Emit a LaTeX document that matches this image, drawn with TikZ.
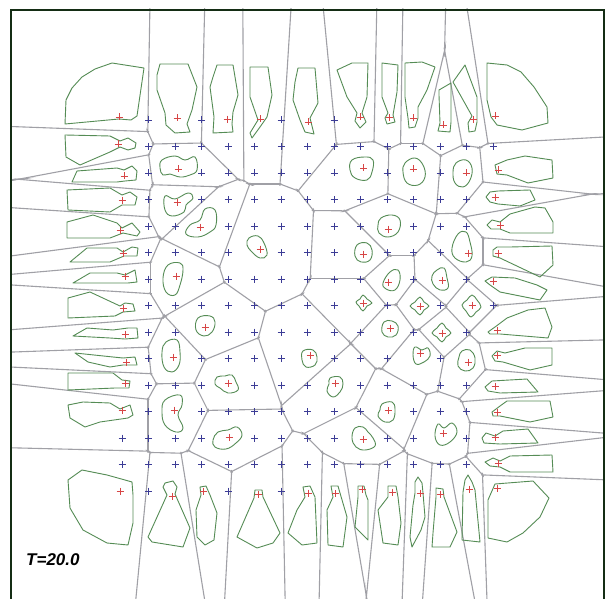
\documentclass[tikz,border=0pt]{standalone}
\usepackage{fontspec}
\newfontfamily\lblfont{Liberation Sans}
\definecolor{vorgray}{RGB}{160,160,166}
\definecolor{blobgreen}{RGB}{85,140,85}
\definecolor{pblue}{RGB}{60,60,150}
\definecolor{pred}{RGB}{215,70,70}
\definecolor{framec}{RGB}{20,45,20}
\tikzset{
  vorline/.style={draw=vorgray,line width=1.1pt},
  blobline/.style={draw=blobgreen,line width=0.9pt,line join=round},
  bcross/.style={draw=pblue,line width=0.9pt},
  rcross/.style={draw=pred,line width=0.9pt},
}
\def\sitelist{119/117,177/118,227/119.2,260/119,308/122,360/117,389/117.6,413/118,443/125,473/119.4,495/116,
118/144,124/176,122/200,120/230,123/253,125/276,123/308,125/334,126/362,125/383,122/410,
120/491,172/496,203/491,258/494,308/493,335/493.6,362/489,392/492,420/493,440/494.4,469/489,497/488,
498/170,495/197,500/225,498/253,493/281,497/330,497.6/355,495/386,497/412,495/437,498/463,
178/169,177/202,200/227,176/276,205/327,173/357,174/410,228/383,229/437,260/249,310/355,335/383,363/439,388/410,
363.8/168,413/169,466/173,388/229,363/254,468/253,388/282,442/280,363/303,420/306,472/305,390/328,442/333,420/353,468/362,443/433}
\begin{document}
\begin{tikzpicture}[x=1pt,y=-1pt]
\path[use as bounding box, fill=white] (0,0) rectangle (608,599);
% ---- Voronoi cells of the red particles (each edge drawn once) ----
\foreach \ax/\ay [count=\ia] in \sitelist {%
  \begin{scope}
    \clip (11,9) rectangle (604,602);
    \foreach \bx/\by [count=\ib] in \sitelist {%
      \ifnum\ia=\ib\relax\else
        \pgfmathsetmacro\vdx{\bx-\ax}%
        \pgfmathsetmacro\vdy{\by-\ay}%
        \pgfmathsetmacro\vlen{veclen(\vdx,\vdy)}%
        \ifdim\vlen pt<200pt
          \pgfmathsetmacro\vux{\vdx/\vlen}%
          \pgfmathsetmacro\vuy{\vdy/\vlen}%
          \pgfmathsetmacro\vmx{(\ax+\bx)/2+1.3*\vux}%
          \pgfmathsetmacro\vmy{(\ay+\by)/2+1.3*\vuy}%
          \pgfmathsetmacro\pax{\vmx-1500*\vuy}%
          \pgfmathsetmacro\pay{\vmy+1500*\vux}%
          \pgfmathsetmacro\pbx{\vmx+1500*\vuy}%
          \pgfmathsetmacro\pby{\vmy-1500*\vux}%
          \pgfmathsetmacro\pcx{\pbx-3000*\vux}%
          \pgfmathsetmacro\pcy{\pby-3000*\vuy}%
          \pgfmathsetmacro\pdx{\pax-3000*\vux}%
          \pgfmathsetmacro\pdy{\pay-3000*\vuy}%
          \clip (\pax,\pay) -- (\pbx,\pby) -- (\pcx,\pcy) -- (\pdx,\pdy) -- cycle;
        \fi
      \fi
    }
    \foreach \bx/\by [count=\ib] in \sitelist {%
      \ifnum\ia<\ib\relax
        \pgfmathsetmacro\vdx{\bx-\ax}%
        \pgfmathsetmacro\vdy{\by-\ay}%
        \pgfmathsetmacro\vlen{veclen(\vdx,\vdy)}%
        \ifdim\vlen pt<200pt
          \pgfmathsetmacro\vux{\vdx/\vlen}%
          \pgfmathsetmacro\vuy{\vdy/\vlen}%
          \pgfmathsetmacro\vmx{(\ax+\bx)/2}%
          \pgfmathsetmacro\vmy{(\ay+\by)/2}%
          \pgfmathsetmacro\pax{\vmx-1500*\vuy}%
          \pgfmathsetmacro\pay{\vmy+1500*\vux}%
          \pgfmathsetmacro\pbx{\vmx+1500*\vuy}%
          \pgfmathsetmacro\pby{\vmy-1500*\vux}%
          \draw[vorline] (\pax,\pay) -- (\pbx,\pby);
        \fi
      \fi
    }
  \end{scope}
}
% ---- outer particle shapes: top ----
\draw[blobline] (65,124)--(66,100)--(72,88)--(82,77)--(95,69)--(112,63)--(144,68)--(137,116)--(131,120)--(119,119)--cycle;
\draw[blobline] (160,64)--(188,64)--(197,87)--(192,110)--(187,124)--(190,132)--(175,133)--(166,125)--(165,113)--(157,90)--(157,75)--cycle;
\draw[blobline] (217,65)--(233,65)--(238,95)--(233,112)--(232,124)--(233,132)--(213,133)--(214,117)--(210,87)--(213,77)--cycle;
\draw[blobline] (250,67)--(268,67)--(272,95)--(267,117)--(260,127)--(252,138)--(250,133)--(258,120)--(250,97)--cycle;
\draw[blobline] (298,68)--(315,68)--(318,103)--(310,118)--(314,134)--(305,132)--(300,120)--(293,100)--(295,82)--cycle;
\draw[blobline] (337,70)--(352,63)--(368,63)--(367,97)--(362,113)--(366,122)--(360,128)--(355,121)--(357,113)--(347,97)--cycle;
\draw[blobline] (382,63)--(398,65)--(397,92)--(393,115)--(395,122)--(387,124)--(385,118)--(388,113)--(382,97)--cycle;
\draw[blobline] (405,63)--(422,62)--(435,67)--(427,90)--(418,107)--(418,118)--(415,127)--(409,128)--(408,118)--(405,97)--cycle;
\draw[blobline] (439,90)--(451,83)--(451,122)--(450,132)--(438,131)--(440,123)--(439,95)--cycle;
\draw[blobline] (465,65)--(477,97)--(477,122)--(475,131)--(469,132)--(468,123)--(472,116)--(453,82)--cycle;
\draw[blobline] (487,63)--(507,65)--(521,72)--(534,87)--(547,107)--(548,123)--(522,130)--(497,125)--(491,117)--(487,100)--cycle;
% left
\draw[blobline] (65,135)--(110,136)--(120,141)--(128,138)--(136,143)--(135,148)--(128,150)--(120,147)--(110,152)--(80,165)--(66,157)--cycle;
\draw[blobline] (72,182)--(77,171)--(117,168)--(124,170)--(132,166)--(137,171)--(136,180)--(125,181)--(117,182)--cycle;
\draw[blobline] (67,190)--(110,188)--(122,195)--(130,192)--(137,197)--(135,205)--(122,205)--(110,212)--(68,210)--cycle;
\draw[blobline] (67,222)--(93,215)--(117,223)--(122,228)--(132,223)--(140,232)--(137,236)--(123,233)--(110,238)--(67,238)--cycle;
\draw[blobline] (70,262)--(87,248)--(117,248)--(123,252)--(132,247)--(138,248)--(137,256)--(124,256)--(110,262)--cycle;
\draw[blobline] (73,283)--(90,273)--(117,273)--(125,275)--(135,270)--(137,282)--(128,283)--cycle;
\draw[blobline] (68,298)--(90,292)--(120,306)--(125,303)--(133,304)--(135,311)--(123,312)--(115,316)--(68,318)--cycle;
\draw[blobline] (73,336)--(87,328)--(113,330)--(128,328)--(137,328)--(138,338)--(125,339)--(110,338)--cycle;
\draw[blobline] (75,353)--(113,357)--(123,358)--(135,357)--(137,365)--(123,365)--(110,367)--(88,362)--cycle;
\draw[blobline] (68,373)--(113,373)--(122,380)--(130,381)--(129,388)--(115,388)--(68,390)--cycle;
\draw[blobline] (68,405)--(83,402)--(110,403)--(120,409)--(130,405)--(133,415)--(128,418)--(100,422)--(85,427)--(70,418)--cycle;
\draw[blobline] (68,480)--(82,470)--(107,475)--(125,480)--(132,482)--(133,495)--(133,523)--(128,545)--(107,543)--(83,530)--(70,508)--cycle;
% bottom
\draw[blobline] (165,483)--(173,481)--(177,487)--(175,494)--(190,528)--(183,547)--(152,542)--(148,537)--(167,495)--(163,487)--cycle;
\draw[blobline] (200,487)--(206,486)--(210,495)--(217,513)--(214,540)--(205,545)--(197,537)--(196,510)--(201,495)--cycle;
\draw[blobline] (255,490)--(262,490)--(263,497)--(280,533)--(273,543)--(257,548)--(237,537)--(254,498)--cycle;
\draw[blobline] (303,487)--(310,486)--(315,497)--(317,543)--(302,545)--(288,533)--(297,510)--(305,497)--cycle;
\draw[blobline] (331,486)--(338,486)--(340,493)--(347,517)--(343,547)--(328,545)--(327,510)--(333,497)--cycle;
\draw[blobline] (358,486)--(364,486)--(366,495)--(368,500)--(368,540)--(355,527)--(358,497)--cycle;
\draw[blobline] (388,486)--(396,486)--(398,497)--(401,523)--(398,545)--(383,543)--(378,510)--(388,497)--cycle;
\draw[blobline] (415,482)--(418,477)--(422,483)--(423,493)--(425,517)--(421,530)--(412,547)--(410,537)--(413,505)--(415,493)--cycle;
\draw[blobline] (436,488)--(443,489)--(444,497)--(457,532)--(450,547)--(432,547)--(433,533)--(436,497)--cycle;
\draw[blobline] (468,475)--(472,482)--(475,490)--(480,542)--(462,540)--(463,492)--(465,480)--cycle;
\draw[blobline] (495,484)--(533,481)--(549,498)--(540,517)--(523,533)--(507,542)--(488,538)--(488,500)--cycle;
% right
\draw[blobline] (495,165)--(507,160)--(525,156)--(552,160)--(553,178)--(528,183)--(507,175)--(497,174)--cycle;
\draw[blobline] (486,197)--(490,192)--(498,191)--(530,190)--(535,200)--(520,206)--(498,204)--(490,202)--cycle;
\draw[blobline] (487,225)--(492,220)--(500,222)--(510,214)--(535,207)--(545,208)--(553,222)--(553,233)--(510,233)--(500,229)--(491,229)--cycle;
\draw[blobline] (493,250)--(497,247)--(510,247)--(552,246)--(553,265)--(540,277)--(500,258)--(493,256)--cycle;
\draw[blobline] (485,281)--(492,277)--(515,278)--(537,285)--(547,290)--(540,300)--(500,292)--(490,285)--cycle;
\draw[blobline] (488,332)--(495,327)--(507,318)--(528,310)--(545,308)--(552,327)--(548,338)--(500,334)--(490,334)--cycle;
\draw[blobline] (492,356)--(497,351)--(505,353)--(525,348)--(552,348)--(552,365)--(530,370)--(503,362)--(495,361)--cycle;
\draw[blobline] (485,387)--(492,381)--(527,379)--(538,392)--(500,393)--(488,391)--cycle;
\draw[blobline] (492,412)--(500,406)--(507,401)--(550,401)--(553,417)--(530,422)--(500,416)--(493,416)--cycle;
\draw[blobline] (482,438)--(486,433)--(495,436)--(503,431)--(528,429)--(538,443)--(500,444)--(484,443)--cycle;
\draw[blobline] (485,462)--(493,458)--(500,461)--(510,456)--(552,455)--(553,472)--(510,472)--(500,467)--(490,466)--cycle;
% ---- inner particle shapes ----
\foreach \pts in {
 {(162,160) (175,156) (185,160) (195,157) (197,170) (190,175) (180,177) (170,174) (163,175) (160,168)},
 {(165,196) (175,199) (188,193) (193,198) (186,205) (184,212) (172,216) (165,210)},
 {(205,209) (215,210) (216,225) (210,232) (198,237) (186,234) (190,225) (200,220)},
 {(168,265) (180,263) (183,270) (180,285) (175,295) (166,292) (163,278)},
 {(198,318) (210,316) (215,322) (212,332) (204,336) (196,330)},
 {(166,342) (177,340) (180,352) (179,365) (172,372) (164,367) (162,352)},
 {(165,400) (180,395) (182,405) (178,415) (183,428) (176,432) (165,425) (162,412)},
 {(217,377) (225,376) (232,375) (236,382) (238,390) (228,393) (220,388) (215,384)},
 {(218,432) (228,430) (237,427) (242,435) (236,443) (226,449) (215,447) (213,440)},
 {(249,238) (258,236) (264,243) (267,255) (260,258) (252,252) (247,245)},
 {(303,351) (313,350) (317,357) (315,365) (306,367) (302,360)},
 {(330,378) (340,377) (343,384) (340,392) (333,397) (327,391) (329,384)},
 {(355,428) (363,427) (368,432) (373,438) (375,446) (365,450) (356,447) (352,438)},
 {(382,404) (392,402) (395,409) (393,420) (385,422) (378,416) (380,410)},
 {(352,160) (365,157) (373,160) (372,172) (367,180) (355,178) (350,170)},
 {(405,163) (415,158) (423,165) (425,177) (418,185) (407,183) (403,172)},
 {(456,163) (466,160) (472,168) (470,180) (463,187) (455,183) (453,172)},
 {(381,218) (392,215) (400,220) (398,232) (388,237) (379,233) (378,225)},
 {(357,245) (367,243) (372,250) (370,260) (361,262) (355,256)},
 {(458,234) (466,232) (470,242) (472,256) (466,262) (455,258) (452,248)},
 {(390,272) (398,270) (400,280) (395,290) (386,289) (383,283)},
 {(437,270) (444,268) (447,278) (448,288) (440,290) (433,284) (432,276)},
 {(363,295) (367,299) (372,303) (367,306) (363,311) (359,306) (356,302) (360,299)},
 {(420,297) (424,302) (429,306) (424,310) (420,315) (415,310) (410,306) (415,302)},
 {(472,295) (477,300) (481,307) (476,312) (471,317) (466,311) (462,305) (467,300)},
 {(384,322) (392,321) (398,326) (396,335) (388,337) (382,332)},
 {(442,323) (446,328) (451,333) (446,337) (442,342) (437,337) (432,333) (437,328)},
 {(415,347) (422,350) (428,348) (430,356) (424,362) (416,364) (413,355)},
 {(462,351) (470,350) (475,358) (473,368) (465,371) (458,366) (459,357)},
 {(438,424) (444,428) (452,423) (457,432) (450,442) (440,445) (435,436)}}
 {\draw[blobline] plot[smooth cycle, tension=0.7] coordinates \pts;}
% ---- lattice: red set ----
\foreach \i/\j in {0/0,2/0,4/0,5/0,7/0,9/0,10/0,11/0,12/0,13/0,14/0,
 0/1,0/2,0/3,0/4,0/5,0/6,0/7,0/8,0/9,0/10,0/11,0/14,
 2/14,3/14,5/14,7/14,8/14,9/14,10/14,11/14,12/14,13/14,14/14,
 14/2,14/3,14/4,14/5,14/6,14/8,14/9,14/10,14/11,14/12,14/13,
 2/2,2/3,3/4,2/6,3/8,2/9,2/11,4/10,4/12,5/5,7/9,8/10,9/12,10/11,9/2,11/2,13/2,10/4,9/5,13/5,10/6,12/6,9/7,11/7,13/7,10/8,12/8,11/9,13/9,12/12}
 {\expandafter\xdef\csname rs@\i @\j\endcsname{1}}
\foreach \i in {0,...,14}{\foreach \j in {0,...,14}{%
  \ifcsname rs@\i @\j\endcsname\else
    \pgfmathsetmacro\cx{122+26.5*\i}\pgfmathsetmacro\cy{120+26.5*\j}%
    \draw[bcross] (\cx-3.5,\cy) -- (\cx+3.5,\cy) (\cx,\cy-3.5) -- (\cx,\cy+3.5);
  \fi}}
\foreach \ax/\ay in \sitelist {\draw[rcross] (\ax-3.5,\ay) -- (\ax+3.5,\ay) (\ax,\ay-3.5) -- (\ax,\ay+3.5);}
% ---- frame and label ----
\draw[framec, line width=1.8pt] (11,640) -- (11,10) -- (604,10) -- (604,640);
\node[font=\lblfont\bfseries\itshape\fontsize{17}{17}\selectfont, anchor=base west, inner sep=0pt] (tlabel) at (26,565) {T=20.0};
\end{tikzpicture}
\end{document}
